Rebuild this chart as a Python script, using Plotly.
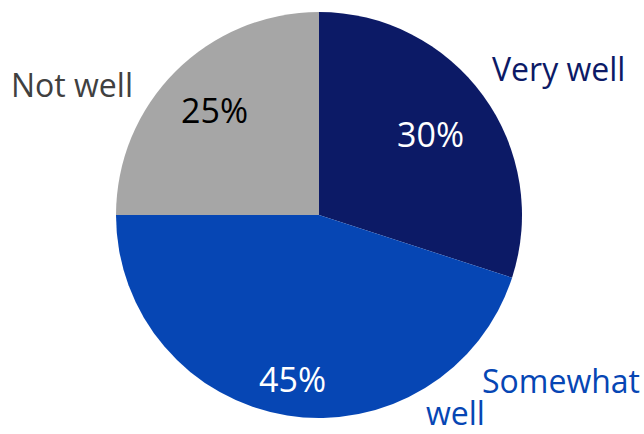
import numpy as np
import plotly.graph_objects as go

# How well things are going: share of responses
labels = ["Very well", "Somewhat well", "Not well"]
values = [30, 45, 25]
slice_colors = ["#0c1a66", "#0646b4", "#a6a6a6"]
pct_colors = ["#ffffff", "#ffffff", "#000000"]
label_colors = ["#0c1a66", "#0646b4", "#404040"]
pct_radius = [0.68, 0.82, 0.73]   # where each value label sits, as a fraction of the radius

FONT = "Open Sans"
W, H = 644, 434
CX, CY, R = 319, 215, 203          # pie centre and radius in pixels (from top-left)

dom_x = [(CX - R) / W, (CX + R) / W]
dom_y = [(H - CY - R) / H, (H - CY + R) / H]

fig = go.Figure(
    go.Pie(
        labels=labels,
        values=values,
        sort=False,
        direction="clockwise",
        rotation=0,
        marker=dict(colors=slice_colors, line=dict(width=0)),
        textinfo="none",
        hoverinfo="label+percent",
        showlegend=False,
        domain=dict(x=dom_x, y=dom_y),
    )
)

# Value labels at each slice's mid-angle (clockwise from 12 o'clock)
vals = np.array(values, dtype=float)
ends = np.cumsum(vals) / vals.sum() * 2 * np.pi
mids = ends - vals / vals.sum() * np.pi
for v, a, rf, c in zip(values, mids, pct_radius, pct_colors):
    px = CX + rf * R * np.sin(a)
    py = CY - rf * R * np.cos(a)
    fig.add_annotation(text=f"{v}%", x=px / W, y=1 - py / H, xref="paper", yref="paper",
                       showarrow=False, xanchor="center", yanchor="middle",
                       font=dict(family=FONT, size=34, color=c))

# Category labels placed around the outside of the pie
fig.add_annotation(text=labels[0], x=0.867, y=0.843, xref="paper", yref="paper",
                   showarrow=False, xanchor="center", yanchor="middle",
                   font=dict(family=FONT, size=32, color=label_colors[0]))
first, second = labels[1].split(" ")
fig.add_annotation(text=first, x=0.997, y=0.123, xref="paper", yref="paper",
                   showarrow=False, xanchor="right", yanchor="middle",
                   font=dict(family=FONT, size=32, color=label_colors[1]))
fig.add_annotation(text=second, x=0.659, y=0.05, xref="paper", yref="paper",
                   showarrow=False, xanchor="left", yanchor="middle",
                   font=dict(family=FONT, size=32, color=label_colors[1]))
fig.add_annotation(text=labels[2], x=0.112, y=0.806, xref="paper", yref="paper",
                   showarrow=False, xanchor="center", yanchor="middle",
                   font=dict(family=FONT, size=32, color=label_colors[2]))

fig.update_layout(
    width=W,
    height=H,
    margin=dict(l=0, r=0, t=0, b=0),
    paper_bgcolor="white",
    plot_bgcolor="white",
    font=dict(family=FONT),
)

fig.write_html("out.html")
